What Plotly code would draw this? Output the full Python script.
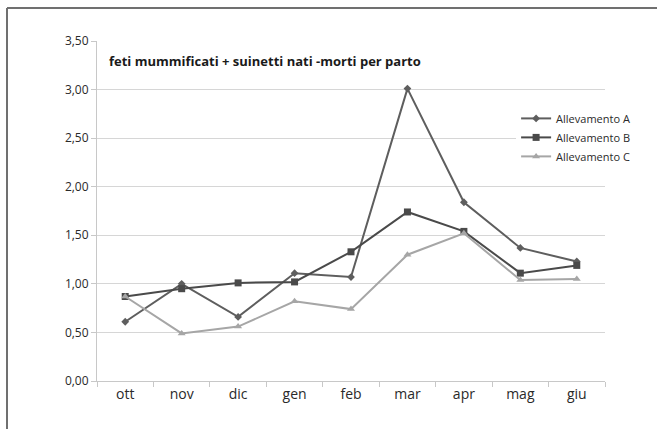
import plotly.graph_objects as go

# Monthly data, October to June
mesi = ["ott", "nov", "dic", "gen", "feb", "mar", "apr", "mag", "giu"]
allevamento_a = [0.61, 1.00, 0.66, 1.11, 1.07, 3.01, 1.84, 1.37, 1.23]
allevamento_b = [0.87, 0.95, 1.01, 1.02, 1.33, 1.74, 1.54, 1.11, 1.19]
allevamento_c = [0.87, 0.49, 0.56, 0.82, 0.74, 1.30, 1.52, 1.04, 1.05]
y_ticks = [0.0, 0.5, 1.0, 1.5, 2.0, 2.5, 3.0, 3.5]

FONT = "Open Sans"

fig = go.Figure()
series = [
    ("Allevamento A", allevamento_a, "#5e5e5e", "diamond", 6),
    ("Allevamento B", allevamento_b, "#4a4a4a", "square", 7),
    ("Allevamento C", allevamento_c, "#a6a6a6", "triangle-up", 7),
]
for name, vals, col, sym, size in series:
    fig.add_trace(go.Scatter(
        x=mesi, y=vals, name=name, mode="lines+markers",
        line=dict(color=col, width=2),
        marker=dict(symbol=sym, size=size, color=col),
    ))

fig.update_layout(
    width=657, height=429,
    margin=dict(l=97, r=52, t=41, b=48),
    paper_bgcolor="white", plot_bgcolor="white",
    separators=",.",
    font=dict(family=FONT, color="#3a3a3a"),
    showlegend=True,
    legend=dict(
        x=0.825, y=0.815, xanchor="left", yanchor="top",
        bgcolor="white", font=dict(size=11, color="#2a2a2a"),
        itemwidth=30, tracegroupgap=0,
    ),
    xaxis=dict(
        type="category", showgrid=False, showline=True,
        linecolor="#c8c8c8", linewidth=1,
        ticks="outside", tickson="boundaries", ticklen=5, tickcolor="#c8c8c8",
        tickfont=dict(size=14, color="#2a2a2a", family=FONT),
        range=[-0.5, 8.5],
    ),
    yaxis=dict(
        range=[0, 3.5], tickvals=y_ticks, tickformat=".2f",
        showgrid=True, gridcolor="#d6d6d6", gridwidth=1,
        showline=True, linecolor="#c8c8c8", linewidth=1,
        ticks="outside", ticklen=5, tickcolor="#c8c8c8",
        tickfont=dict(size=12, color="#2a2a2a", family=FONT),
        zeroline=False,
    ),
    annotations=[dict(
        text="<b>feti mummificati + suinetti nati -morti per parto</b>",
        xref="paper", yref="paper", x=0.02, y=(381 - 61) / 340,
        xanchor="left", yanchor="middle", showarrow=False,
        font=dict(size=13, color="#1a1a1a", family=FONT),
    )],
    shapes=[
        # outer frame: top and left edges
        dict(type="line", xref="paper", yref="paper",
             x0=-90 / 508, x1=570 / 508, y0=(381 - 8) / 340, y1=(381 - 8) / 340,
             line=dict(color="#707070", width=2)),
        dict(type="line", xref="paper", yref="paper",
             x0=-90 / 508, x1=-90 / 508, y0=(381 - 8) / 340, y1=-50 / 340,
             line=dict(color="#707070", width=2)),
    ],
)

fig.write_html("out.html")
